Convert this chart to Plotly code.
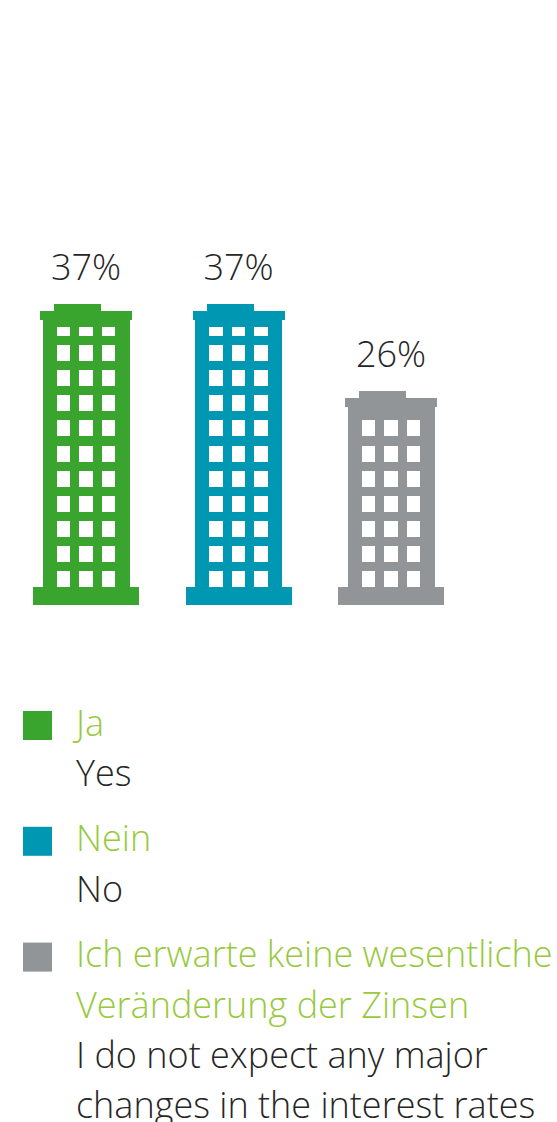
import plotly.graph_objects as go

# ---- data ----
categories = ["Ja", "Nein", "Keine Veränderung"]
values = [37, 37, 26]
colors = ["#3AA52E", "#0097B2", "#919598"]
german_lines = [["Ja"], ["Nein"], ["Ich erwarte keine wesentliche", "Veränderung der Zinsen"]]
english_lines = [["Yes"], ["No"], ["I do not expect any major", "changes in the interest rates"]]

# ---- layout constants (pixels) ----
W, H = 557, 1122
X0, PITCH = 86.0, 152.5        # first tower centre, tower spacing
Y_ZERO, PX_PER_UNIT = 596.6, 7.909
px_x = 1 / PITCH
px_y = 1 / PX_PER_UNIT
ROOF_H, CAP_H, PLINTH_TOP, PLINTH_BOT = 7, 9, 587, 605
ROOF_DX = -8.5
to_y = lambda py: (Y_ZERO - py) * px_y
LIME, INK = "#97C93D", "#262626"
FONT = "Open Sans"
FONT_SIZE = 36

xs = list(range(len(values)))
fig = go.Figure()


def bar(x, base, top, width, color, name):
    fig.add_trace(go.Bar(
        x=x, y=[t - b for t, b in zip(top, base)], base=base,
        width=[w * px_x for w in width], marker=dict(color=color, line=dict(width=0)),
        showlegend=False, name=name, hoverinfo="skip"))


n = len(values)
# plinth, body, cap, roof
bar(xs, [to_y(PLINTH_BOT)] * n, [to_y(PLINTH_TOP)] * n, [106] * n, colors, "plinth")
bar(xs, [to_y(PLINTH_TOP)] * n, [v - (ROOF_H + CAP_H) * px_y for v in values], [87] * n, colors, "body")
bar(xs, [v - (ROOF_H + CAP_H) * px_y for v in values], [v - ROOF_H * px_y for v in values], [92] * n, colors, "cap")
bar([x + ROOF_DX * px_x for x in xs], [v - ROOF_H * px_y for v in values], values, [47] * n, colors, "roof")

# windows: rows stacked from the plinth upward as far as the tower height allows
ROW_PITCH, WIN_H, WIN_W, WIN_DX, CAP_GAP = 25.1, 16, 13.5, 22.5, 7
wx, wb, wt = [], [], []
for i, v in enumerate(values):
    limit = Y_ZERO - v * PX_PER_UNIT + ROOF_H + CAP_H + CAP_GAP
    row_bottom = PLINTH_TOP
    while row_bottom - 4 > limit:
        row_top = max(row_bottom - WIN_H, limit)
        for dx in (-WIN_DX, 0, WIN_DX):
            wx.append(i + dx * px_x)
            wb.append(to_y(row_bottom))
            wt.append(to_y(row_top))
        row_bottom -= ROW_PITCH
bar(wx, wb, wt, [WIN_W] * len(wx), "#FFFFFF", "windows")

# value labels
LABEL_GAP = 15
fig.add_trace(go.Scatter(
    x=xs, y=[v + LABEL_GAP * px_y for v in values], mode="text", text=[f"{v}%" for v in values],
    textposition="top center", showlegend=False, hoverinfo="skip",
    textfont=dict(family=FONT, size=FONT_SIZE, color=INK, weight=300)))

# legend (hand-laid to keep two-language, two-colour rows)
shapes, annotations = [], []
LEG_X = 73.5
LINE_H = 50.4
line_y = 723
GROUP_GAP = 15
TEXT_DY = -1
J_SHIFT = -4
for col, de, en in zip(colors, german_lines, english_lines):
    shapes.append(dict(type="rect", xref="paper", yref="paper", line_width=0, fillcolor=col,
                       x0=23 / W, x1=52 / W, y0=1 - (line_y + 17) / H, y1=1 - (line_y - 12) / H))
    for text, color in [(t, LIME) for t in de] + [(t, INK) for t in en]:
        annotations.append(dict(
            xref="paper", yref="paper", x=LEG_X / W, y=1 - (line_y + TEXT_DY) / H, text=text,
            xanchor="left", yanchor="middle", showarrow=False, align="left",
            xshift=J_SHIFT if text.startswith("J") else 0,
            font=dict(family=FONT, size=FONT_SIZE, color=color, weight=300)))
        line_y += LINE_H
    line_y += GROUP_GAP

fig.update_layout(
    width=W, height=H, margin=dict(l=0, r=0, t=0, b=0),
    autosize=False, paper_bgcolor="white", plot_bgcolor="white",
    barmode="overlay", bargap=0, showlegend=False,
    shapes=shapes, annotations=annotations,
    xaxis=dict(range=[-X0 * px_x, (W - X0) * px_x], visible=False, fixedrange=True),
    yaxis=dict(range=[to_y(H), to_y(0)], visible=False, fixedrange=True),
)
fig.write_html("out.html", config={"displayModeBar": False, "responsive": False},
               post_script="document.body.style.margin='0';document.body.style.overflow='hidden';")
